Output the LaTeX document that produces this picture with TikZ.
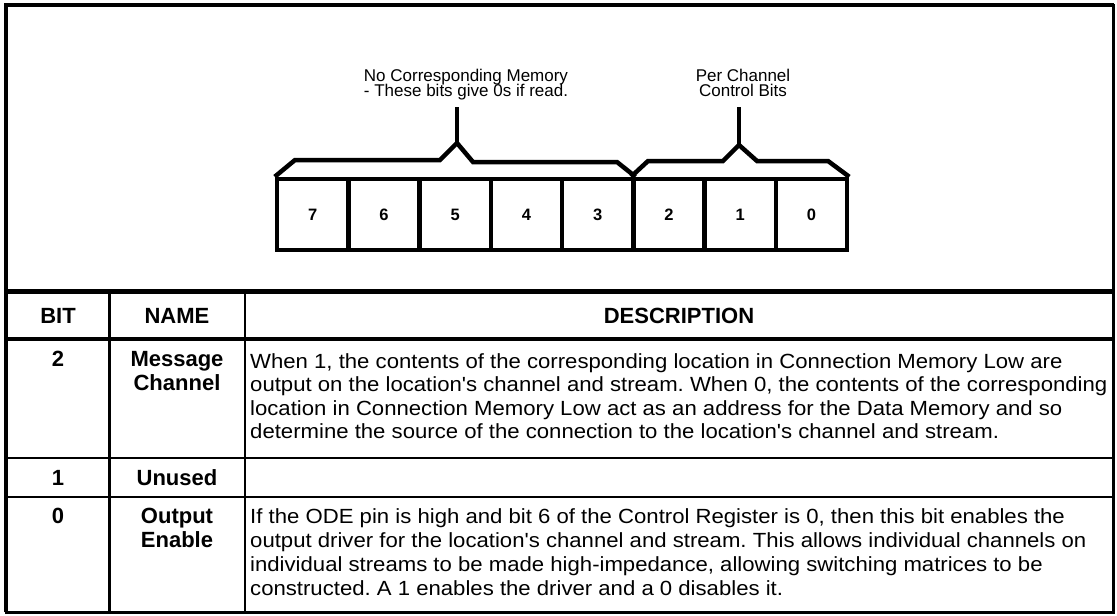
\documentclass[tikz,border=0pt]{standalone}
\usepackage{fontspec}
\setmainfont{Liberation Sans}
\newfontfamily\descfont[FakeStretch=1.08]{Liberation Sans}
\frenchspacing
\begin{document}
\begin{tikzpicture}[x=1pt,y=-1pt,
  cell/.style={draw,line width=4.5pt,minimum width=71.25pt,minimum height=71pt,inner sep=0pt,
    text height=11.8pt,text depth=0pt,
    font=\fontsize{16.5}{18}\selectfont\bfseries},
  brace/.style={line width=4.5pt,line join=miter,line cap=butt},
  lbl/.style={font=\fontsize{17}{18}\selectfont,anchor=base,inner sep=0pt},
  desc/.style={font=\descfont\fontsize{20.5}{24}\selectfont,anchor=base west,inner sep=0pt},
  bold/.style={font=\fontsize{22}{24}\selectfont\bfseries,anchor=base,inner sep=0pt},
  thin/.style={line width=2.2pt},
  thick/.style={line width=4.3pt}]
\useasboundingbox (0,0) rectangle (1117,616);
% outer frame
\draw[thick] (6,612) -- (6,5) -- (1114,5);
\draw[thin] (1113.5,4) -- (1113.5,612.5) -- (5,612.5);
% register cells
\foreach \b [count=\i from 0] in {7,6,5,4,3,2,1,0}
  \node[cell] (c\b) at ({277+71.25*(\i+0.5)},214.5) {\b};
% braces
\coordinate (apexA) at (457,143);
\coordinate (apexB) at (739,145);
\coordinate (stemA) at (457,107);
\coordinate (stemB) at (739,107);
\draw[brace] (c7.north west) -- (295,160) -- (440,160) -- (apexA) -- (473,162) -- (617,162) -- (c3.north east);
\draw[brace] (c2.north west) -- (648,161) -- (723,161) -- (apexB) -- (757,161) -- (828,161) -- (c0.north east);
\draw[brace] (apexA) -- (stemA);
\draw[brace] (apexB) -- (stemB);
% labels
\node[lbl] (la1) at (466,81) {No Corresponding Memory};
\node[lbl] (la2) at (466,96) {- These bits give 0s if read.};
\node[lbl] (lb1) at (743,81) {Per Channel};
\node[lbl] (lb2) at (743,96) {Control Bits};
% table lines
\draw[line width=4.5pt] (6,291.5) -- (1113.5,291.5);
\draw[line width=4pt] (6,339) -- (1113.5,339);
\draw[thin] (6,458) -- (1113.5,458);
\draw[thin] (6,497) -- (1113.5,497);
\draw[thin] (109.5,291.5) -- (109.5,612.5);
\draw[thin] (245,291.5) -- (245,612.5);
% header
\node[bold] (hbit) at (58,323) {BIT};
\node[bold] (hname) at (177,323) {NAME};
\node[bold] (hdesc) at (679,323) {DESCRIPTION};
% row bit 2
\node[bold] (r2b) at (58,366) {2};
\node[bold] (r2n1) at (177,366) {Message};
\node[bold] (r2n2) at (177,390) {Channel};
\node[desc] (r2d1) at (250,368) {When 1, the contents of the corresponding location in Connection Memory Low are};
\node[desc] (r2d2) at (250,391.5) {output on the location's channel and stream. When 0, the contents of the corresponding};
\node[desc] (r2d3) at (250,415) {location in Connection Memory Low act as an address for the Data Memory and so};
\node[desc] (r2d4) at (250,438.5) {determine the source of the connection to the location's channel and stream.};
% row bit 1
\node[bold] (r1b) at (58,485) {1};
\node[bold] (r1n) at (177,485) {Unused};
% row bit 0
\node[bold] (r0b) at (58,523) {0};
\node[bold] (r0n1) at (177,523) {Output};
\node[bold] (r0n2) at (177,547) {Enable};
\node[desc] (r0d1) at (250,523) {If the ODE pin is high and bit 6 of the Control Register is 0, then this bit enables the};
\node[desc] (r0d2) at (250,547) {output driver for the location's channel and stream. This allows individual channels on};
\node[desc] (r0d3) at (250,571) {individual streams to be made high-impedance, allowing switching matrices to be};
\node[desc] (r0d4) at (250,595) {constructed. A 1 enables the driver and a 0 disables it.};
\end{tikzpicture}
\end{document}
